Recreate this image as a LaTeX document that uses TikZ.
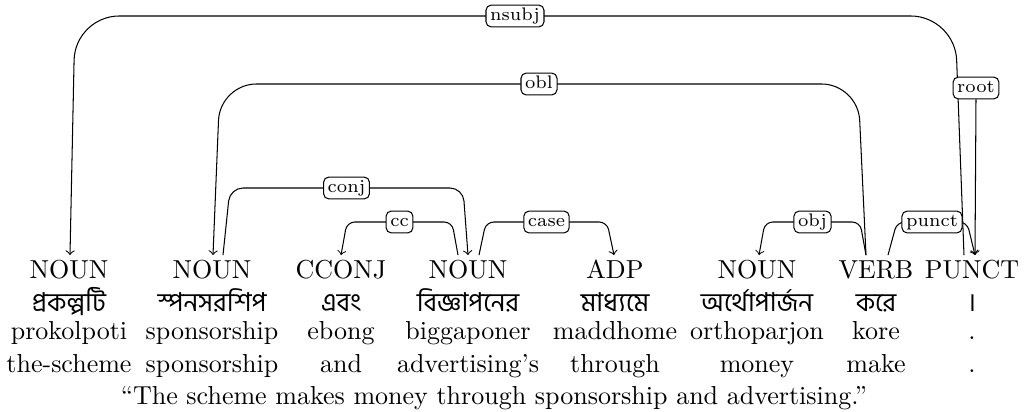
\documentclass[tikz,border=0pt]{standalone}
\usepackage{fontspec}
\newfontfamily\bnfont[Script=Bengali]{Hind Siliguri}
\newdimen\pxu \pxu=0.3846pt
\begin{document}
\begin{tikzpicture}[x=0.3846pt, y=-0.3846pt,
  word/.style={anchor=base, inner sep=0pt},
  bn/.style={anchor=base, inner sep=0pt, font=\bnfont},
  posword/.style={anchor=base, inner sep=2pt, text height=7pt, text depth=2pt},
  lab/.style={draw, fill=white, rounded corners=2pt, font=\scriptsize,
    inner xsep=1.6pt, inner ysep=1pt, text height=5pt, text depth=1.4pt},
  dep/.style={->, line width=0.4pt},
]
\useasboundingbox (0,0) rectangle (1027,412);

% POS row
\node[posword] (p1) at (69,279) {NOUN};
\node[posword] (p2) at (212,279) {NOUN};
\node[posword] (p3) at (341,279) {CCONJ};
\node[posword] (p4) at (468,279) {NOUN};
\node[posword] (p5) at (615,279) {ADP};
\node[posword] (p6) at (757,279) {NOUN};
\node[posword] (p7) at (876,279) {VERB};
\node[posword] (p8) at (972,279) {PUNCT};

% Bengali row
\node[bn] (b1) at (69,312) {প্রকল্পটি};
\node[bn] (b2) at (212,312) {স্পনসরশিপ};
\node[bn] (b3) at (341,312) {এবং};
\node[bn] (b4) at (468,312) {বিজ্ঞাপনের};
\node[bn] (b5) at (615,312) {মাধ্যমে};
\node[bn] (b6) at (757,312) {অর্থোপার্জন};
\node[bn] (b7) at (876,312) {করে};
\node[bn] (b8) at (972,312) {।};

% transliteration row
\node[word] (t1) at (69,340) {prokolpoti};
\node[word] (t2) at (212,340) {sponsorship};
\node[word] (t3) at (341,340) {ebong};
\node[word] (t4) at (468,340) {biggaponer};
\node[word] (t5) at (615,340) {maddhome};
\node[word] (t6) at (757,340) {orthoparjon};
\node[word] (t7) at (876,340) {kore};
\node[word] (t8) at (972,340) {.};

% gloss row
\node[word] (e1) at (69,373) {the-scheme};
\node[word] (e2) at (212,373) {sponsorship};
\node[word] (e3) at (341,373) {and};
\node[word] (e4) at (468,373) {advertising's};
\node[word] (e5) at (615,373) {through};
\node[word] (e6) at (757,373) {money};
\node[word] (e7) at (876,373) {make};
\node[word] (e8) at (972,373) {.};

\node[word] (s) at (494,405) {``The scheme makes money through sponsorship and advertising.''};

% edges
\draw[dep, rounded corners=17pt] ([xshift=-8\pxu]p8.north) -- (955,16)
  -- node[lab] (l1) {nsubj} (75,16) -- ([xshift=1\pxu]p1.north);
\node[lab] (l8) at (976,88) {root};
\draw[dep] (l8.south) -- ([xshift=3\pxu]p8.north);
\draw[dep, rounded corners=14pt] ([xshift=-10\pxu]p7.north) -- (858,84)
  -- node[lab] (l2) {obl} (220,84) -- ([xshift=1\pxu]p2.north);
\draw[dep, rounded corners=5pt] ([xshift=11\pxu]p2.north) -- (230,188)
  -- node[lab] (l3) {conj} (463,188) -- (p4.north);
\draw[dep, rounded corners=3pt] ([xshift=-10\pxu]p4.north) -- (452,222)
  -- node[lab] (l4) {cc} (347,222) -- (p3.north);
\draw[dep, rounded corners=3pt] ([xshift=11\pxu]p4.north) -- (486,222)
  -- node[lab] (l5) {case} (607,222) -- ([xshift=-1\pxu]p5.north);
\draw[dep, rounded corners=3pt] ([xshift=-10\pxu]p7.north) -- (860,222)
  -- node[lab] (l6) {obj} (765,222) -- ([xshift=2\pxu]p6.north);
\draw[dep, rounded corners=3pt] ([xshift=12\pxu]p7.north) -- (897,222)
  -- node[lab] (l7) {punct} (967,222) -- ([xshift=3\pxu]p8.north);
\end{tikzpicture}
\end{document}
